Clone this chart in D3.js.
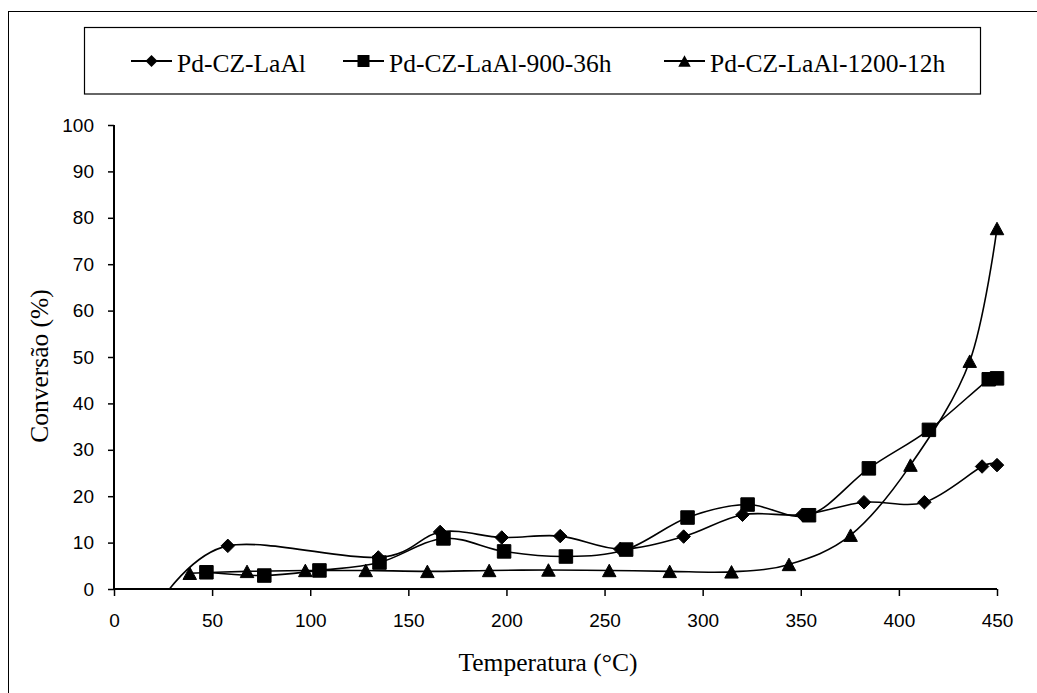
<!DOCTYPE html>
<html>
<head>
<meta charset="utf-8">
<script src="https://cdn.jsdelivr.net/npm/d3@7"></script>
<style>
  html, body { margin: 0; padding: 0; background: #fff; }
  svg { display: block; }
</style>
</head>
<body>
<svg id="chart" width="1037" height="693"></svg>
<script>
// ---- data ----
const seriesNames = ["Pd-CZ-LaAl", "Pd-CZ-LaAl-900-36h", "Pd-CZ-LaAl-1200-12h"];
const tempA = [24, 58, 134.7, 166.2, 197.6, 227.4, 258, 290.3, 320.3, 350.8, 382.2, 413, 442.4, 450];
const convA = [-2.5, 9.3, 6.8, 12.3, 11.1, 11.4, 8.6, 11.3, 16.0, 16.0, 18.7, 18.7, 26.4, 26.7];
const tempB = [47.1, 76.6, 104.7, 135.3, 167.9, 198.8, 230.3, 261, 292.3, 322.9, 354.2, 384.7, 415.3, 445.8, 450];
const convB = [3.6, 2.9, 4.0, 5.7, 10.9, 8.1, 7.0, 8.5, 15.4, 18.2, 15.9, 26.0, 34.3, 45.2, 45.4];
const tempC = [38.6, 67.8, 97.5, 128.3, 159.7, 191.2, 221.4, 252.4, 283.2, 314.7, 344, 375.4, 405.9, 436.1, 450];
const convC = [3.4, 3.8, 4.0, 4.0, 3.8, 4.0, 4.1, 4.0, 3.8, 3.7, 5.3, 11.6, 26.7, 49.1, 77.7];
const xTicks = [0, 50, 100, 150, 200, 250, 300, 350, 400, 450];
const yTicks = [0, 10, 20, 30, 40, 50, 60, 70, 80, 90, 100];
const xTitle = "Temperatura (°C)";
const yTitle = "Conversão (%)";

// ---- layout ----
const svg = d3.select("#chart");
const L = 114, R = 997, T = 125, B = 589;
const x = d3.scaleLinear().domain([0, 450]).range([L, R]);
const y = d3.scaleLinear().domain([0, 100]).range([B, T]);
const serif = "'Liberation Serif', 'Times New Roman', serif";
const sans = "'Liberation Sans', Arial, sans-serif";

// outer border
svg.append("rect").attr("x", 8.5).attr("y", 11.5).attr("width", 1060).attr("height", 720)
  .attr("fill", "none").attr("stroke", "#000").attr("stroke-width", 1);

// clip
const defs = svg.append("defs");
defs.append("clipPath").attr("id", "plotclip").append("rect")
  .attr("x", L - 20).attr("y", T - 20).attr("width", R - L + 40).attr("height", B - T + 20);

// axes
const xAxis = d3.axisBottom(x).tickValues(xTicks).tickSize(7).tickPadding(18).tickFormat(d3.format("d"));
const yAxis = d3.axisLeft(y).tickValues(yTicks).tickSize(6).tickPadding(14).tickFormat(d3.format("d"));
const gx = svg.append("g").attr("transform", `translate(0,${B})`).call(xAxis);
const gy = svg.append("g").attr("transform", `translate(${L},0)`).call(yAxis);
[gx, gy].forEach(g => {
  g.select(".domain").attr("stroke", "#000").attr("stroke-width", 2);
  g.selectAll(".tick line").attr("stroke", "#000").attr("stroke-width", 1.5);
  g.selectAll(".tick text").attr("fill", "#000").style("font-family", sans).style("font-size", "19px");
});
gy.select(".domain").attr("d", `M0,${T}V${B}`);
gx.select(".domain").attr("d", `M${L},0H${R}`);

// titles
svg.append("text").attr("x", 548).attr("y", 671).attr("text-anchor", "middle")
  .style("font-family", serif).style("font-size", "25.5px").text(xTitle);
svg.append("text").attr("transform", "translate(48,366) rotate(-90)").attr("text-anchor", "middle")
  .style("font-family", serif).style("font-size", "25.5px").text(yTitle);

// markers
function markerPath(kind, s) {
  if (kind === 0) { const h = s * 0.5; return `M0,${-h}L${h},0L0,${h}L${-h},0Z`; }
  if (kind === 1) { const h = s * 0.5; return `M${-h},${-h}H${h}V${h}H${-h}Z`; }
  const w = s * 0.52, hh = s * 0.48; return `M0,${-hh}L${w},${hh}L${-w},${hh}Z`;
}

const seriesData = [
  tempA.map((t, i) => [t, convA[i]]),
  tempB.map((t, i) => [t, convB[i]]),
  tempC.map((t, i) => [t, convC[i]])
];
const markerSize = [13.5, 13.5, 13];

const line = d3.line().x(d => x(d[0])).y(d => y(d[1])).curve(d3.curveCardinal.tension(0));
const plot = svg.append("g").attr("clip-path", "url(#plotclip)");
seriesData.forEach((data, k) => {
  plot.append("path").attr("d", line(data)).attr("fill", "none")
    .attr("stroke", "#000").attr("stroke-width", 1.6);
});
seriesData.forEach((data, k) => {
  plot.selectAll(null).data(data).enter().append("path")
    .attr("transform", d => `translate(${x(d[0])},${y(d[1])})`)
    .attr("d", markerPath(k, markerSize[k])).attr("fill", "#000")
    .attr("stroke", "#000").attr("stroke-width", 1).attr("stroke-linejoin", "miter");
});

// legend
svg.append("rect").attr("x", 84.5).attr("y", 27.5).attr("width", 896).attr("height", 66.5)
  .attr("fill", "#fff").attr("stroke", "#000").attr("stroke-width", 1.2);
const legX = [131, 343, 664];
const legY = 61;
seriesNames.forEach((name, k) => {
  const g = svg.append("g").attr("transform", `translate(${legX[k]},${legY})`);
  g.append("line").attr("x1", 0).attr("x2", 41).attr("y1", 0).attr("y2", 0)
    .attr("stroke", "#000").attr("stroke-width", 2);
  g.append("path").attr("transform", "translate(20.5,0)").attr("d", markerPath(k, 12)).attr("fill", "#000");
  g.append("text").attr("x", 46).attr("y", 10.5).style("font-family", serif).style("font-size", "25.5px").text(name);
});
</script>
</body>
</html>
